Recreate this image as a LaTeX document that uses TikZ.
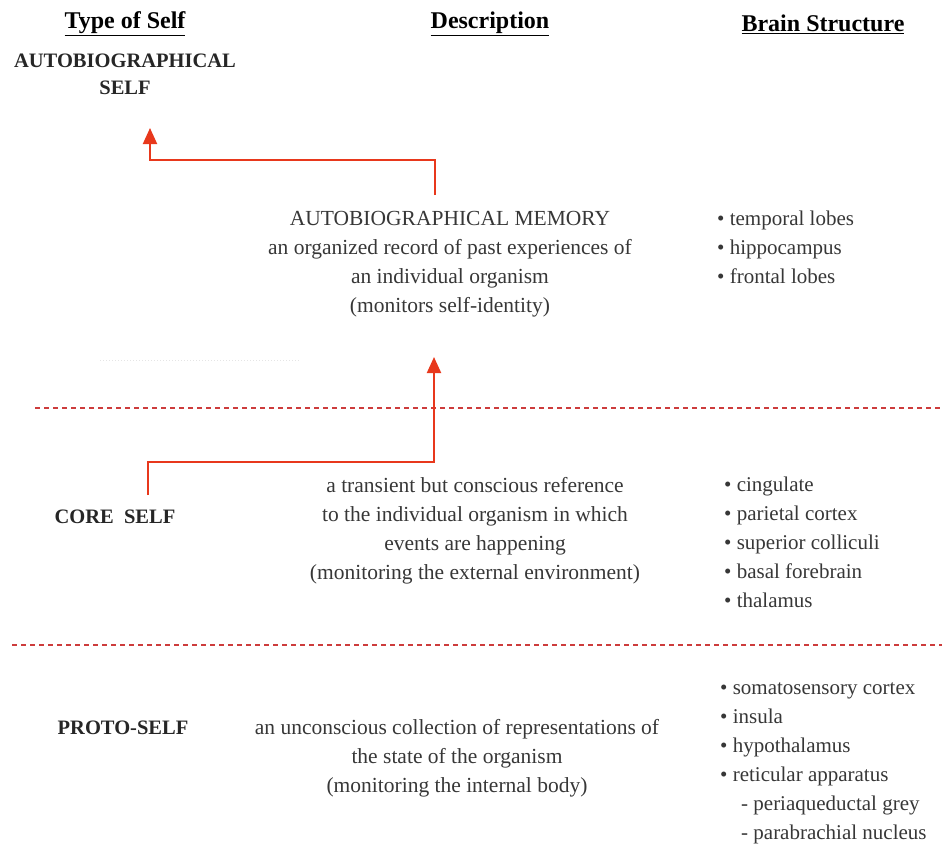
\documentclass[tikz,border=0pt]{standalone}
\usepackage{fontspec}
\setmainfont{Liberation Serif}
\usetikzlibrary{arrows.meta}
\definecolor{arrowred}{RGB}{232,56,28}
\definecolor{dividerred}{RGB}{205,60,60}
\definecolor{textgrey}{RGB}{55,55,55}

\begin{document}
\begin{tikzpicture}[x=1pt,y=-1pt,
    head/.style={font=\fontsize{24}{28}\selectfont\bfseries,inner sep=0pt},
    selftype/.style={font=\fontsize{20.5}{27}\selectfont\bfseries,align=center,inner sep=0pt,text=black!85},
    desc/.style={font=\fontsize{21.5}{29}\selectfont,text=textgrey,align=center,inner sep=0pt,anchor=north},
    brain/.style={font=\fontsize{21}{29}\selectfont,text=textgrey,align=left,inner sep=0pt,anchor=north west},
    flow/.style={draw=arrowred,line width=2pt,-{Triangle[width=14pt,length=16pt]}},
    divider/.style={draw=dividerred,line width=1.5pt,dash pattern=on 5pt off 4pt}]
  \useasboundingbox (0,0) rectangle (942,844);

  % column heads
  \node[head] (headtype) at (125,24) {\underline{Type of Self}};
  \node[head] (headdesc) at (490,24) {\underline{Description}};
  \node[head] (headbrain) at (823,24) {\underline{Brain Structure}};

  % types of self
  \node[selftype] (autoself) at (125,74) {AUTOBIOGRAPHICAL\\SELF};
  \node[selftype] (coreself) at (115,517) {CORE\ \ SELF};
  \node[selftype] (protoself) at (123,728) {PROTO-SELF};

  % descriptions
  \node[desc] (autodesc) at (450,211) {AUTOBIOGRAPHICAL MEMORY\\
    an organized record of past experiences of\\
    an individual organism\\
    (monitors self-identity)};
  \node[desc] (coredesc) at (475,477) {a transient but conscious reference\\
    to the individual organism in which\\
    events are happening\\
    (monitoring the external environment)};
  \node[desc] (protodesc) at (457,719) {an unconscious collection of representations of\\
    the state of the organism\\
    (monitoring the internal body)};

  % brain structures
  \node[brain] (autobrain) at (717,211) {• temporal lobes\\
    • hippocampus\\
    • frontal lobes};
  \node[brain] (corebrain) at (724,477) {• cingulate\\
    • parietal cortex\\
    • superior colliculi\\
    • basal forebrain\\
    • thalamus};
  \node[brain] (protobrain) at (720,682) {• somatosensory cortex\\
    • insula\\
    • hypothalamus\\
    • reticular apparatus\\
    \hspace*{1em}- periaqueductal grey\\
    \hspace*{1em}- parabrachial nucleus};

  % dividers
  \coordinate (div1w) at (35,408);
  \coordinate (div1e) at (942,408);
  \coordinate (div2w) at (12,645);
  \coordinate (div2e) at (942,645);
  \draw[divider] (div1w) -- (div1e);
  \draw[divider] (div2w) -- (div2e);
  \draw[gray!20,line width=1pt,dotted] (100,360) -- (300,360);

  % arrows
  \coordinate (autostart) at (435,195);
  \coordinate (autoend) at (150,128);
  \coordinate (corestart) at (148,495);
  \coordinate (coreend) at (434,357);
  \draw[flow] (autostart) -- ++(0,-35) -| (autoend);
  \draw[flow] (corestart) -- ++(0,-33) -| (coreend);
\end{tikzpicture}
\end{document}
